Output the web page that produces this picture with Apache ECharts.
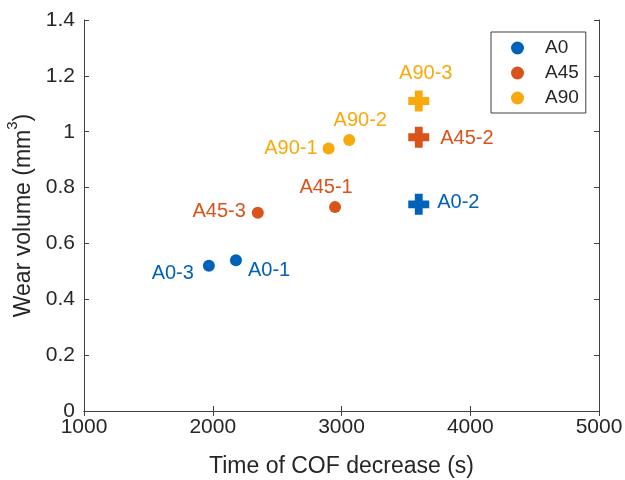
<!DOCTYPE html>
<html lang="en">
<head>
    <meta charset="UTF-8">
    <title>Wear volume vs time of COF decrease</title>
    <script src="https://cdn.jsdelivr.net/npm/echarts@6/dist/echarts.min.js"></script>
    <style>
        body, html {
            margin: 0;
            padding: 0;
            background-color: #ffffff;
        }
        #chart {
            width: 625px;
            height: 480px;
        }
    </style>
</head>
<body>
    <div id="chart"></div>
    <script>
        // data
        const seriesNames = ['A0', 'A45', 'A90'];
        const a0Time = [2180, 3600, 1970];
        const a0Wear = [0.54, 0.74, 0.52];
        const a0Names = ['A0-1', 'A0-2', 'A0-3'];
        const a45Time = [2950, 3600, 2350];
        const a45Wear = [0.73, 0.98, 0.71];
        const a45Names = ['A45-1', 'A45-2', 'A45-3'];
        const a90Time = [2900, 3060, 3600];
        const a90Wear = [0.94, 0.97, 1.11];
        const a90Names = ['A90-1', 'A90-2', 'A90-3'];
        // samples that never showed a COF decrease are drawn as plus signs
        const plusSamples = ['A0-2', 'A45-2', 'A90-3'];

        const xTicks = [1000, 2000, 3000, 4000, 5000];
        const yTicks = [0, 0.2, 0.4, 0.6, 0.8, 1, 1.2, 1.4];

        const colors = ['#0062B8', '#D9531A', '#F8A90C'];
        const font = 'Liberation Sans, Arial, sans-serif';
        const plusPath = 'path://M2.5,0H5.5V2.5H8V5.5H5.5V8H2.5V5.5H0V2.5H2.5Z';

        // label placement for each point
        const labelPlace = {
            'A0-1': { position: 'right', distance: 6, offset: [0, 10] },
            'A0-2': { position: 'right', distance: 8, offset: [0, -2] },
            'A0-3': { position: 'left', distance: 9, offset: [0, 8] },
            'A45-1': { position: 'top', distance: 4, offset: [-9, 0] },
            'A45-2': { position: 'right', distance: 11, offset: [0, 1] },
            'A45-3': { position: 'left', distance: 6, offset: [0, -1] },
            'A90-1': { position: 'left', distance: 5, offset: [0, 0] },
            'A90-2': { position: 'top', distance: 4, offset: [11, 0] },
            'A90-3': { position: 'top', distance: 7, offset: [7, 0] }
        };

        function makeSeries(name, xs, ys, labels, color) {
            return {
                name: name,
                type: 'scatter',
                xAxisIndex: 0,
                yAxisIndex: 0,
                itemStyle: { color: color, opacity: 1 },
                data: xs.map((x, i) => {
                    const isPlus = plusSamples.includes(labels[i]);
                    const place = labelPlace[labels[i]];
                    return {
                        value: [x, ys[i]],
                        symbol: isPlus ? plusPath : 'circle',
                        symbolSize: isPlus ? 21 : 12,
                        label: {
                            show: true,
                            formatter: labels[i],
                            position: place.position,
                            distance: place.distance,
                            offset: place.offset,
                            color: color,
                            fontFamily: font,
                            fontSize: 20
                        }
                    };
                }),
                emphasis: { disabled: true }
            };
        }

        const chart = echarts.init(document.getElementById('chart'), null, { renderer: 'canvas' });

        const axisLine = { show: true, lineStyle: { color: '#404040', width: 1 } };
        const tickStyle = { show: true, inside: true, length: 5, lineStyle: { color: '#404040' } };

        const option = {
            backgroundColor: '#ffffff',
            animation: false,
            textStyle: { fontFamily: font },
            grid: { left: 84, right: 26, top: 20, bottom: 69, outerBoundsMode: 'none', containLabel: false },
            legend: {
                data: seriesNames.map(n => ({ name: n, icon: 'circle' })),
                orient: 'vertical',
                left: 491,
                top: 32,
                itemWidth: 13,
                itemHeight: 13,
                itemGap: 5,
                padding: [6, 7, 5, 20],
                borderColor: '#404040',
                borderWidth: 1,
                selectedMode: false,
                textStyle: { fontFamily: font, fontSize: 19, color: '#262626', lineHeight: 20, padding: [0, 0, 0, 16] }
            },
            xAxis: [
                {
                    type: 'value',
                    position: 'bottom',
                    min: xTicks[0],
                    max: xTicks[xTicks.length - 1],
                    interval: 1000,
                    name: 'Time of COF decrease (s)',
                    nameLocation: 'middle',
                    nameGap: 44,
                    nameTextStyle: { fontFamily: font, fontSize: 23, color: '#262626' },
                    axisLine: axisLine,
                    axisTick: tickStyle,
                    axisLabel: { fontFamily: font, fontSize: 21, color: '#262626', margin: 6, formatter: v => String(v) },
                    splitLine: { show: false }
                },
                {
                    type: 'value',
                    position: 'top',
                    min: xTicks[0],
                    max: xTicks[xTicks.length - 1],
                    interval: 1000,
                    axisLine: axisLine,
                    axisTick: tickStyle,
                    axisLabel: { show: false },
                    splitLine: { show: false }
                }
            ],
            yAxis: [
                {
                    type: 'value',
                    position: 'left',
                    min: yTicks[0],
                    max: yTicks[yTicks.length - 1],
                    interval: 0.2,
                    name: '{t|Wear volume (mm}{s|3}{t|)}',
                    nameLocation: 'middle',
                    nameGap: 42,
                    nameTextStyle: {
                        rich: {
                            t: { fontFamily: font, fontSize: 23, color: '#262626', lineHeight: 30, verticalAlign: 'bottom' },
                            s: { fontFamily: font, fontSize: 15, color: '#262626', lineHeight: 30, verticalAlign: 'top' }
                        }
                    },
                    axisLine: axisLine,
                    axisTick: tickStyle,
                    axisLabel: {
                        fontFamily: font, fontSize: 21, color: '#262626', margin: 9,
                        formatter: v => String(Math.round(v * 10) / 10)
                    },
                    splitLine: { show: false }
                },
                {
                    type: 'value',
                    position: 'right',
                    min: yTicks[0],
                    max: yTicks[yTicks.length - 1],
                    interval: 0.2,
                    axisLine: axisLine,
                    axisTick: tickStyle,
                    axisLabel: { show: false },
                    splitLine: { show: false }
                }
            ],
            series: [
                makeSeries(seriesNames[0], a0Time, a0Wear, a0Names, colors[0]),
                makeSeries(seriesNames[1], a45Time, a45Wear, a45Names, colors[1]),
                makeSeries(seriesNames[2], a90Time, a90Wear, a90Names, colors[2])
            ]
        };

        chart.setOption(option);
    </script>
</body>
</html>
